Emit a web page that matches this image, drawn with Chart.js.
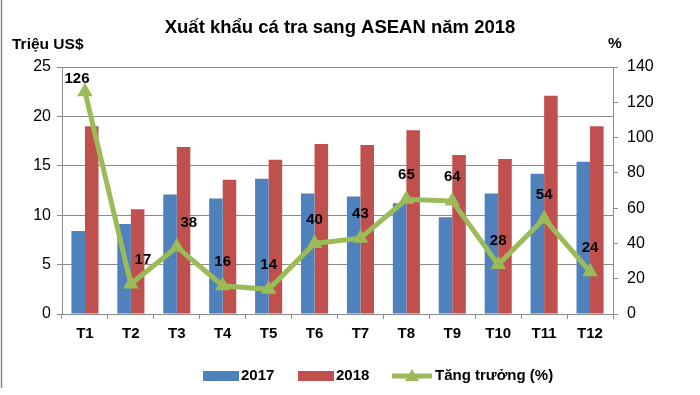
<!DOCTYPE html>
<html>
<head>
<meta charset="utf-8">
<script src="https://cdn.jsdelivr.net/npm/chart.js@4/dist/chart.umd.min.js"></script>
<style>
  html, body { margin: 0; padding: 0; background: #fff; }
  #wrap { width: 700px; height: 395px; position: relative; }
</style>
</head>
<body>
<div id="wrap"><canvas id="chart" width="700" height="395"></canvas></div>
<script>
const months = ['T1', 'T2', 'T3', 'T4', 'T5', 'T6', 'T7', 'T8', 'T9', 'T10', 'T11', 'T12'];
const exports2017 = [8.4, 9.1, 12.1, 11.7, 13.7, 12.2, 11.9, 11.2, 9.8, 12.2, 14.2, 15.4];
const exports2018 = [19.0, 10.6, 16.9, 13.6, 15.6, 17.2, 17.1, 18.6, 16.1, 15.7, 22.1, 19.0];
const growth = [126, 17, 38, 16, 14, 40, 43, 65, 64, 28, 54, 24];

const TITLE = 'Xuất khẩu cá tra sang ASEAN năm 2018';
const BLUE = '#4F81BD';
const RED = '#C0504D';
const GREEN = '#9BBB59';
const GRID = '#8c8c8c';
const FONT = '"Liberation Sans", Arial, sans-serif';

const decorPlugin = {
  id: 'decor',
  afterDatasetsDraw(chart) {
    const ctx = chart.ctx;
    const meta = chart.getDatasetMeta(0);
    ctx.save();
    ctx.fillStyle = '#000';
    ctx.font = 'bold 15px ' + FONT;
    ctx.textAlign = 'center';
    ctx.textBaseline = 'middle';
    meta.data.forEach((pt, i) => {
      // first label is squeezed under the top edge, T2/T3 sit to the right
      const dx = i === 0 ? -8 : (i === 1 || i === 2 ? 12 : 0);
      const dy = i === 0 ? -13 : -24;
      ctx.fillText(String(growth[i]), pt.x + dx, pt.y + dy);
    });
    ctx.restore();
  },
  afterDraw(chart) {
    const ctx = chart.ctx;
    ctx.save();
    // left frame line
    ctx.strokeStyle = '#8c8c8c';
    ctx.lineWidth = 1.5;
    ctx.beginPath();
    ctx.moveTo(1.5, 0);
    ctx.lineTo(1.5, 388);
    ctx.stroke();

    ctx.fillStyle = '#000';
    ctx.textBaseline = 'middle';
    ctx.font = 'bold 18.5px ' + FONT;
    ctx.textAlign = 'center';
    ctx.fillText(TITLE, 340, 28);

    ctx.font = 'bold 15.5px ' + FONT;
    ctx.textAlign = 'left';
    ctx.fillText('Triệu US$', 12, 45);
    ctx.fillText('%', 608, 44);

    // legend
    const ly = 376;
    ctx.fillStyle = BLUE;
    ctx.fillRect(203, ly - 5, 36, 10);
    ctx.fillStyle = RED;
    ctx.fillRect(298, ly - 5, 36, 10);
    ctx.strokeStyle = GREEN;
    ctx.lineWidth = 5;
    ctx.beginPath();
    ctx.moveTo(392, ly);
    ctx.lineTo(432, ly);
    ctx.stroke();
    ctx.fillStyle = GREEN;
    ctx.beginPath();
    ctx.moveTo(412, ly - 7);
    ctx.lineTo(419, ly + 5);
    ctx.lineTo(405, ly + 5);
    ctx.closePath();
    ctx.fill();

    ctx.fillStyle = '#000';
    ctx.font = 'bold 15px ' + FONT;
    ctx.fillText('2017', 241, ly);
    ctx.fillText('2018', 336, ly);
    ctx.fillText('Tăng trưởng (%)', 435, ly);
    ctx.restore();
  },
};

new Chart(document.getElementById('chart'), {
  data: {
    labels: months,
    datasets: [
      {
        type: 'line',
        label: 'Tăng trưởng (%)',
        data: growth,
        yAxisID: 'y1',
        borderColor: GREEN,
        backgroundColor: GREEN,
        borderWidth: 5,
        pointStyle: 'triangle',
        pointRadius: 9,
        pointBorderWidth: 0,
        tension: 0,
        order: 0,
      },
      {
        type: 'bar',
        label: '2017',
        data: exports2017,
        yAxisID: 'y',
        backgroundColor: BLUE,
        categoryPercentage: 0.59,
        barPercentage: 1,
        order: 1,
      },
      {
        type: 'bar',
        label: '2018',
        data: exports2018,
        yAxisID: 'y',
        backgroundColor: RED,
        categoryPercentage: 0.59,
        barPercentage: 1,
        order: 1,
      },
    ],
  },
  options: {
    responsive: false,
    animation: false,
    layout: { padding: { top: 67, left: 0, right: 0, bottom: 0 } },
    plugins: {
      legend: { display: false },
      title: { display: false },
      tooltip: { enabled: false },
    },
    scales: {
      x: {
        offset: true,
        grid: {
          offset: true,
          drawOnChartArea: false,
          drawTicks: true,
          tickLength: 5,
          color: GRID,
        },
        border: { color: GRID, width: 1 },
        ticks: {
          color: '#000',
          padding: 6,
          font: { family: FONT, size: 15, weight: 'bold' },
        },
        afterFit(scale) { scale.height = 81; },
      },
      y: {
        position: 'left',
        min: 0,
        max: 25,
        ticks: {
          stepSize: 5,
          color: '#000',
          padding: 6,
          font: { family: FONT, size: 16 },
        },
        grid: { color: GRID, tickLength: 5 },
        border: { color: GRID },
        afterFit(scale) { scale.width = 62; },
      },
      y1: {
        position: 'right',
        min: 0,
        max: 140,
        ticks: {
          stepSize: 20,
          color: '#000',
          padding: 9,
          font: { family: FONT, size: 16 },
        },
        grid: { drawOnChartArea: false, color: GRID, tickLength: 5 },
        border: { color: GRID },
        afterFit(scale) { scale.width = 87; },
      },
    },
  },
  plugins: [decorPlugin],
});
</script>
</body>
</html>
